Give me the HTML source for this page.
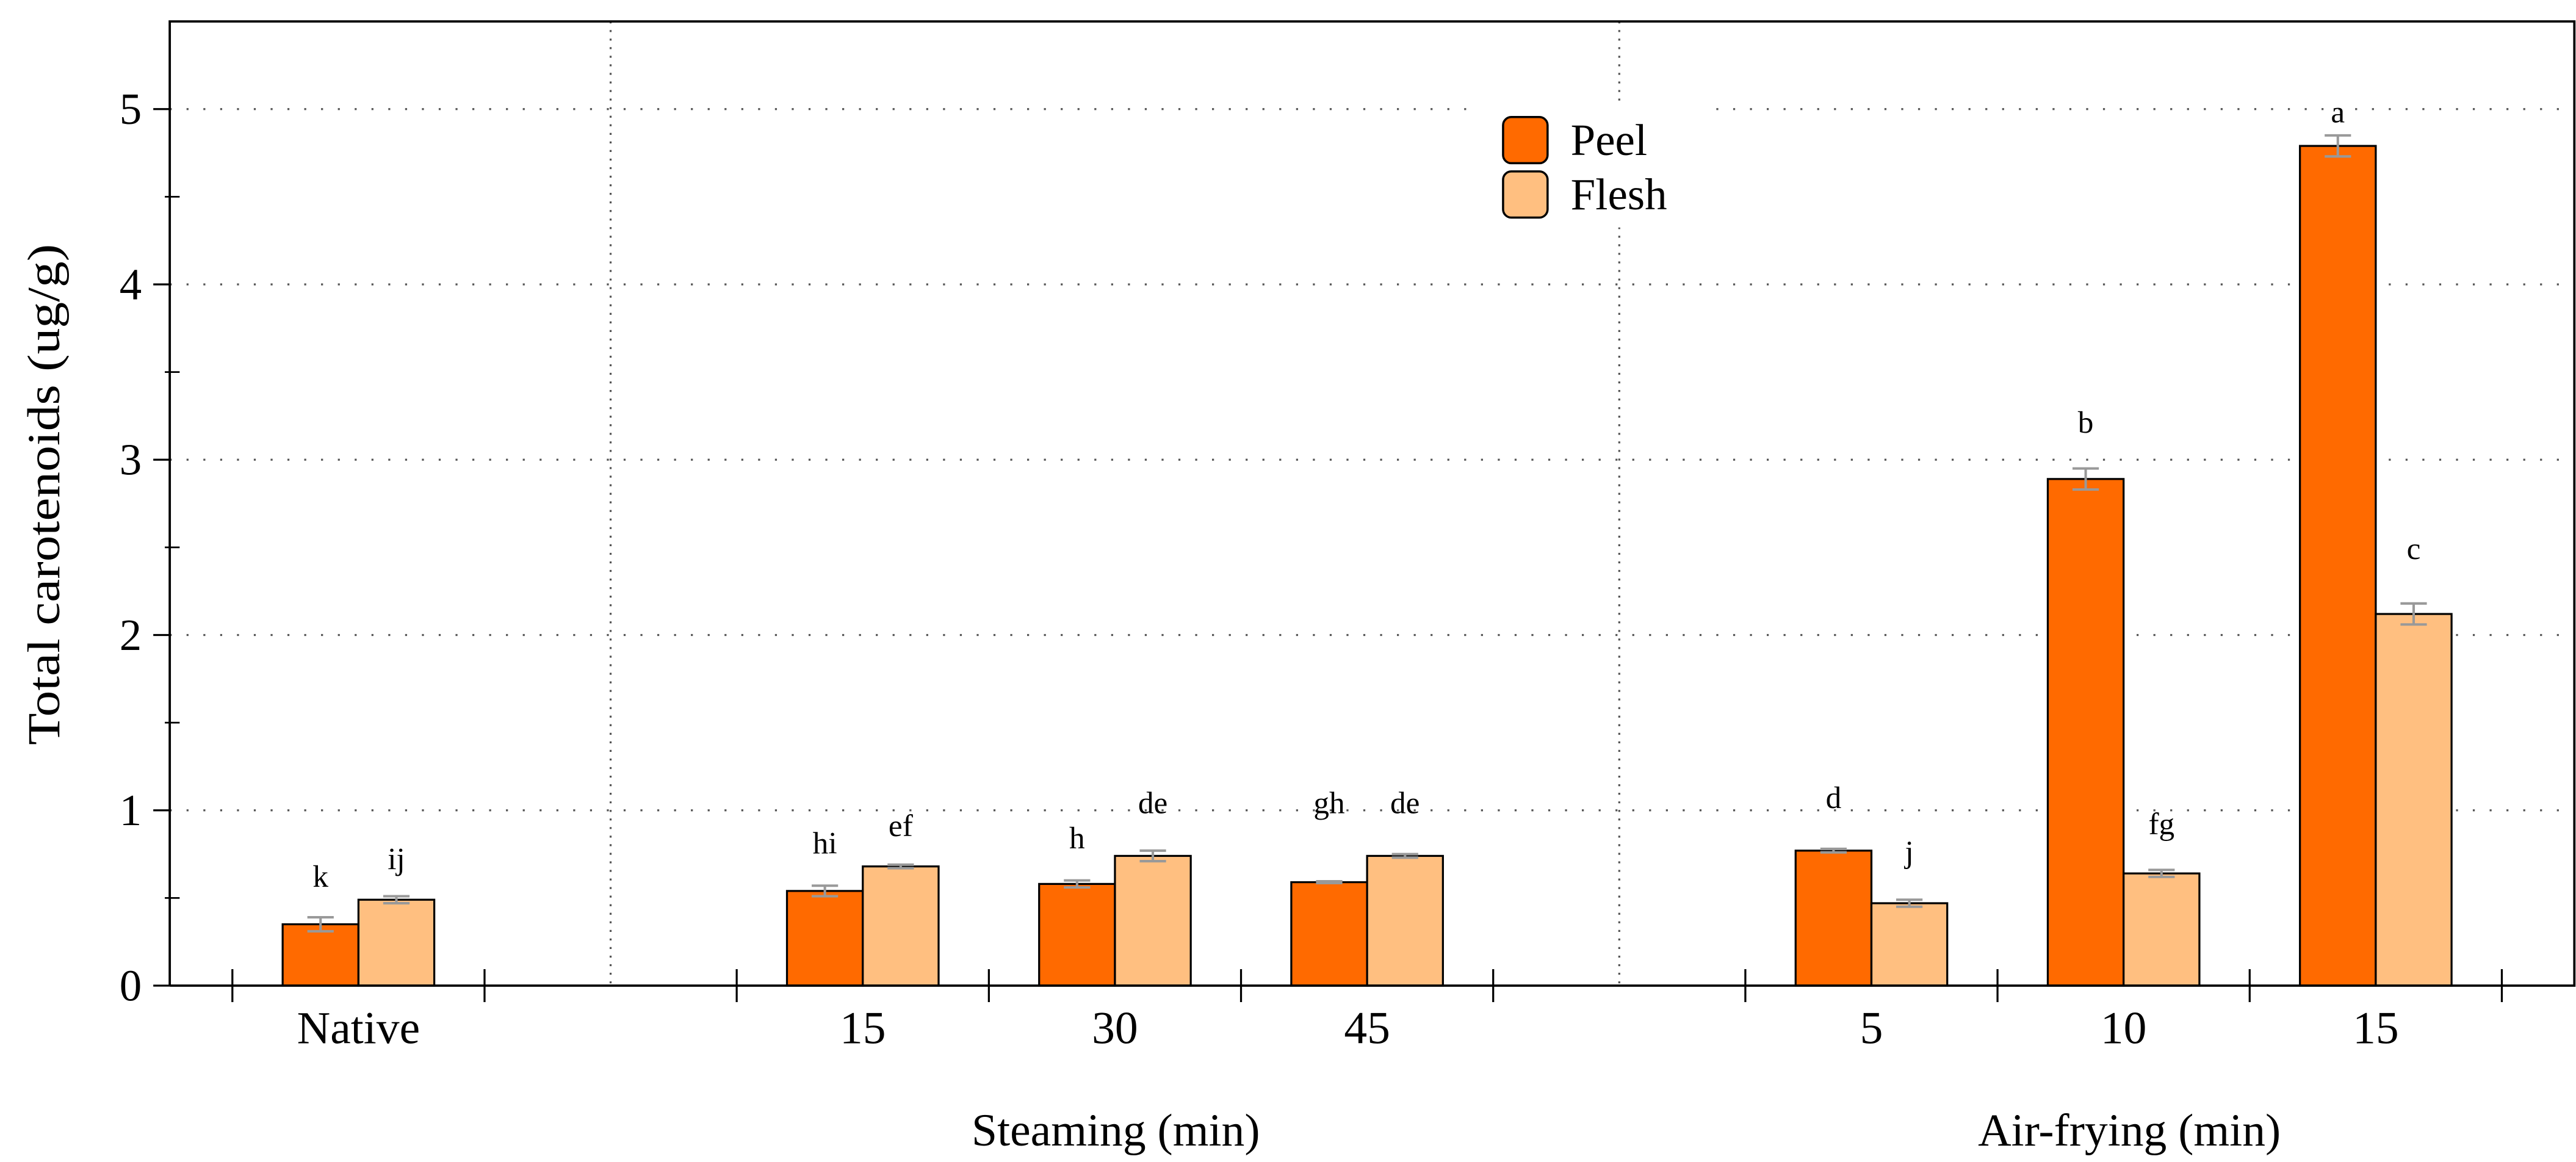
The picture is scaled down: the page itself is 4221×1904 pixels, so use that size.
<!DOCTYPE html>
<html><head><meta charset="utf-8"><style>
html,body{margin:0;padding:0;background:#fff;}
svg{display:block;}
text{font-family:"Liberation Serif",serif;fill:#000;}
</style></head><body>
<svg id="chart" width="4221" height="1904" viewBox="0 0 1563 705" xmlns="http://www.w3.org/2000/svg">
<g id="grid"></g>
<g id="bars"></g>
<g id="axes"></g>
<g id="legend">
  <rect x="895" y="64" width="140" height="74" fill="#fff"/>
  <rect x="912" y="71" width="27" height="28" rx="5" fill="#FF6A00" stroke="#000" stroke-width="1.3"/>
  <text x="953" y="94" font-size="27">Peel</text>
  <rect x="912" y="104" width="27" height="28" rx="5" fill="#FFBF80" stroke="#000" stroke-width="1.3"/>
  <text x="953" y="127" font-size="27">Flesh</text>
</g>
<text x="36" y="300" font-size="28" text-anchor="middle" textLength="304" lengthAdjust="spacingAndGlyphs" transform="rotate(-90 36 300)">Total carotenoids (ug/g)</text>
<text x="677" y="695" font-size="28" text-anchor="middle">Steaming (min)</text>
<text x="1292" y="695" font-size="28" text-anchor="middle">Air-frying (min)</text>
</svg>
<script>
const slotIndex = [0, 2, 3, 4, 6, 7, 8];
const categories = ["Native", "15", "30", "45", "5", "10", "15"];
const peelValues = [0.35, 0.54, 0.58, 0.59, 0.77, 2.89, 4.79];
const fleshValues = [0.49, 0.68, 0.74, 0.74, 0.47, 0.64, 2.12];
const peelErrors = [0.04, 0.03, 0.02, 0.005, 0.01, 0.06, 0.06];
const fleshErrors = [0.02, 0.01, 0.03, 0.01, 0.02, 0.02, 0.06];
const peelLetters = ["k", "hi", "h", "gh", "d", "b", "a"];
const fleshLetters = ["ij", "ef", "de", "de", "j", "fg", "c"];
const peelLetterY = [0.62, 0.81, 0.84, 1.04, 1.07, 3.21, 4.98];
const fleshLetterY = [0.72, 0.91, 1.04, 1.04, 0.76, 0.92, 2.49];
const yTicks = [0, 1, 2, 3, 4, 5];

const NS = "http://www.w3.org/2000/svg";
const L = 103, R = 1562, T = 13, B = 598, YMAX = 5.5;
const X0 = 141, SLOT = 153.0, NSLOT = 9;
const y = v => B - v / YMAX * (B - T);
const slotX = i => X0 + i * SLOT;
function mk(tag, attrs, parent) {
  const e = document.createElementNS(NS, tag);
  for (const k in attrs) e.setAttribute(k, attrs[k]);
  parent.appendChild(e);
  return e;
}
const grid = document.getElementById('grid');
const bars = document.getElementById('bars');
const axes = document.getElementById('axes');

yTicks.forEach(t => {
  if (t > 0) {
    const g = mk('line', {x1: L, x2: R, y1: y(t), y2: y(t), stroke: '#555', 'stroke-width': 1.2, 'stroke-dasharray': '1.2 9'}, grid);
    
    
  }
  const tk = mk('line', {x1: L - 10, x2: L, y1: y(t), y2: y(t), stroke: '#000', 'stroke-width': 1.2}, axes);
  
  
  const lb = mk('text', {x: L - 17, y: y(t) + 9, 'font-size': 27, 'text-anchor': 'end'}, axes);
  lb.textContent = t;
  
  
  if (t < 5) {
    const mn = mk('line', {x1: L - 3, x2: L + 6, y1: y(t + 0.5), y2: y(t + 0.5), stroke: '#000', 'stroke-width': 1}, axes);
    
    
  }
});
[1, 5].forEach(s => {
  const cx = slotX(s) + SLOT / 2;
  const v = mk('line', {x1: cx, x2: cx, y1: T, y2: B, stroke: '#555', 'stroke-width': 1.2, 'stroke-dasharray': '1.2 4'}, grid);
  
  
});

const bw = 46;
categories.forEach((c, i) => {
  const cx = slotX(slotIndex[i]) + SLOT / 2;
  [[peelValues, peelErrors, '#FF6A00', -1, peelLetters, peelLetterY, 'peel'],
   [fleshValues, fleshErrors, '#FFBF80', 0, fleshLetters, fleshLetterY, 'flesh']].forEach(s => {
    const v = s[0][i], e = s[1][i];
    const x = cx + s[3] * bw;
    const r = mk('rect', {x: x, y: y(v), width: bw, height: B - y(v), fill: s[2], stroke: '#000', 'stroke-width': 1.2}, bars);
    
    
    const ex = x + bw / 2;
    const eb = mk('path', {d: `M${ex},${y(v + e)}V${y(v - e)}M${ex - 8},${y(v + e)}H${ex + 8}M${ex - 8},${y(v - e)}H${ex + 8}`, stroke: '#999', 'stroke-width': 1.5, fill: 'none'}, bars);
    
    
    const lt = mk('text', {x: ex, y: y(s[5][i]) + 6, 'font-size': 19, 'text-anchor': 'middle'}, bars);
    lt.textContent = s[4][i];
    
    
  });
  const cl = mk('text', {x: cx, y: 633, 'font-size': 28, 'text-anchor': 'middle'}, axes);
  cl.textContent = c;
  
  
});

for (let i = 0; i <= NSLOT; i++) {
  const xt = mk('line', {x1: slotX(i), x2: slotX(i), y1: B - 10, y2: B + 10, stroke: '#000', 'stroke-width': 1.2}, axes);
  
  
}
const frame = mk('path', {d: `M${L},${B}V${T}H${R}V${B}H${L}`, stroke: '#000', 'stroke-width': 1.4, fill: 'none'}, axes);


</script>
</body></html>
